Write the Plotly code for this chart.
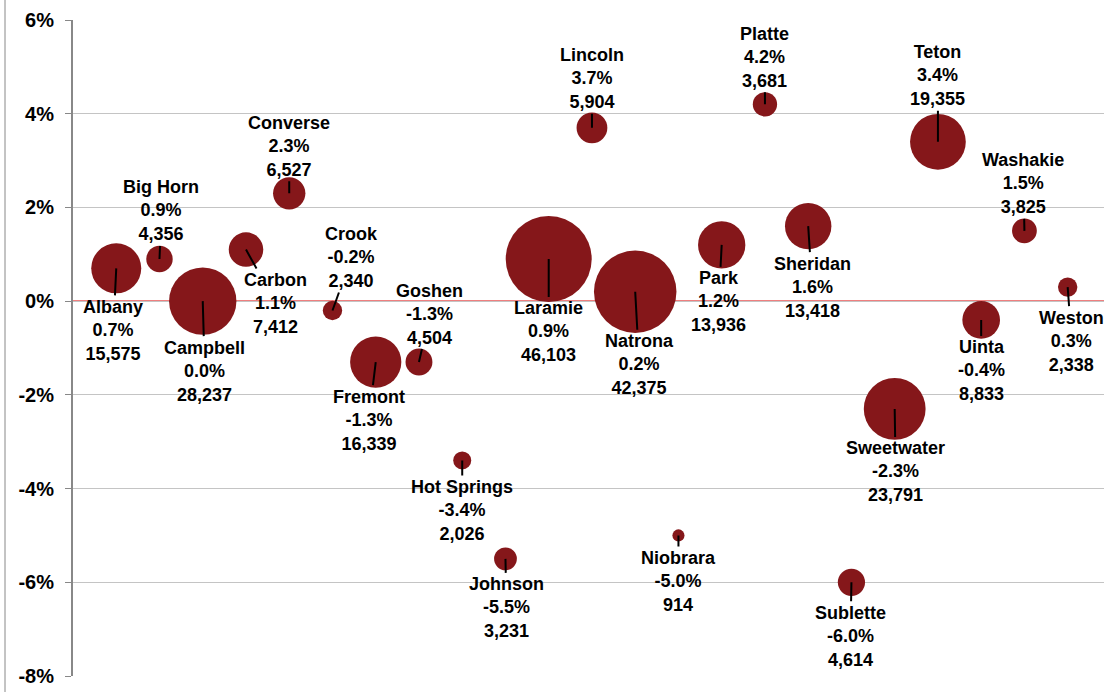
import plotly.graph_objects as go

counties = ["Albany", "Big Horn", "Campbell", "Carbon", "Converse", "Crook", "Fremont",
            "Goshen", "Hot Springs", "Johnson", "Laramie", "Lincoln", "Natrona", "Niobrara",
            "Park", "Platte", "Sheridan", "Sublette", "Sweetwater", "Teton", "Uinta",
            "Washakie", "Weston"]
growth_pct = [0.7, 0.9, 0.0, 1.1, 2.3, -0.2, -1.3, -1.3, -3.4, -5.5, 0.9, 3.7, 0.2, -5.0,
              1.2, 4.2, 1.6, -6.0, -2.3, 3.4, -0.4, 1.5, 0.3]
population = [15575, 4356, 28237, 7412, 6527, 2340, 16339, 4504, 2026, 3231, 46103, 5904,
              42375, 914, 13936, 3681, 13418, 4614, 23791, 19355, 8833, 3825, 2338]

tick_vals = [-8, -6, -4, -2, 0, 2, 4, 6]
tick_text = ["-8%", "-6%", "-4%", "-2%", "0%", "2%", "4%", "6%"]

# label offsets (pixels) from bubble centre to label centre (styling)
label_offsets = [(-3, 62), (2, -48), (2, 70), (30, 54), (0, -47), (19, -53), (-7, 58),
                 (11, -48), (0, 50), (1, 49), (0, 73), (0, -49), (4, 73), (0, 46),
                 (-3, 57), (0, -47), (4, 61), (-1, 54), (1, 63), (0, -66), (0, 51),
                 (-1, -47), (4, 54)]

x_pos = list(range(1, len(counties) + 1))

W, H = 1104, 692
ML, MR, MT, MB = 73, 0, 20, 16

fig = go.Figure()
fig.add_trace(go.Scatter(
    x=x_pos, y=growth_pct, mode="markers",
    marker=dict(size=population, sizemode="area", sizeref=12.46,
                color="#85171A", line=dict(width=0), opacity=1),
    hoverinfo="text",
    text=[f"{c}: {g:.1f}%, {p:,}" for c, g, p in zip(counties, growth_pct, population)],
))

annotations = []
for xi, c, g, p, (dx, dy) in zip(x_pos, counties, growth_pct, population, label_offsets):
    annotations.append(dict(
        x=xi, y=g, xref="x", yref="y",
        text=f"<b>{c}<br>{g:.1f}%<br>{p:,}</b>",
        showarrow=True, arrowhead=0, arrowwidth=2, arrowcolor="black",
        ax=dx, ay=dy, standoff=0, startstandoff=0,
        font=dict(family="Arial, Liberation Sans, sans-serif", size=18, color="black"),
        align="center",
    ))

plot_w = W - ML - MR
fig.update_layout(
    width=W, height=H,
    margin=dict(l=ML, r=MR, t=MT, b=MB, pad=0),
    paper_bgcolor="white", plot_bgcolor="white",
    showlegend=False,
    annotations=annotations,
    xaxis=dict(range=[0, 23.84], showgrid=False, zeroline=False, showticklabels=False,
               ticks="", showline=False, fixedrange=True),
    yaxis=dict(range=[-8, 6], tickvals=tick_vals, ticktext=tick_text,
               showgrid=True, gridcolor="#c4c4c4", gridwidth=1,
               zeroline=False,
               showline=True, linecolor="#888888", linewidth=2,
               ticks="outside", ticklen=6, tickcolor="#888888", tickwidth=1,
               ticklabelstandoff=7,
               tickfont=dict(family="Arial, Liberation Sans, sans-serif", size=20, color="black",
                             weight="bold"),
               fixedrange=True),
    shapes=[
        dict(type="line", xref="paper", yref="paper",
             x0=(5 - ML) / plot_w, x1=(5 - ML) / plot_w,
             y0=-MB / (H - MT - MB), y1=1 + MT / (H - MT - MB),
             line=dict(color="#888888", width=1)),
        dict(type="line", xref="paper", yref="y", x0=0, x1=1, y0=0, y1=0,
             layer="between", line=dict(color="#e00000", width=1.5)),
    ],
)

fig.write_html("out.html", config={"displayModeBar": False},
               post_script="document.body.style.margin='0';document.body.style.overflow='hidden';")
